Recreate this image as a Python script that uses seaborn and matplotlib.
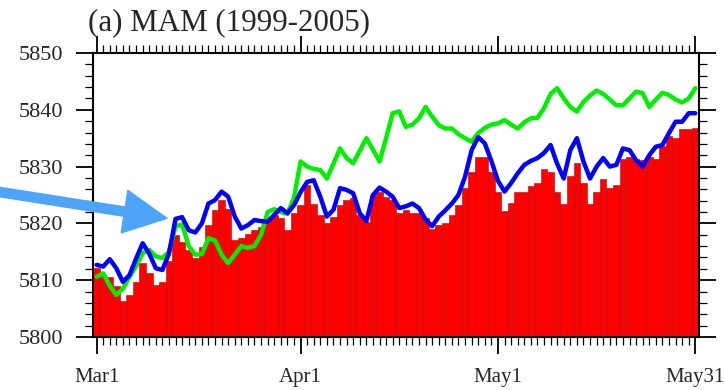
import numpy as np
import pandas as pd
import matplotlib
matplotlib.use("Agg")
import matplotlib.pyplot as plt
import matplotlib.patches as mpatches
from matplotlib.ticker import FixedLocator, MultipleLocator
import seaborn as sns

# Daily 500-hPa height, 1 Mar - 31 May (gpm)
bar_vals = [5812.2, 5810.9, 5810.5, 5808.9, 5806.3, 5807.4, 5809.7, 5813.0, 5811.3, 5809.2,
            5809.7, 5813.3, 5818.0, 5816.8, 5815.3, 5813.9, 5815.9, 5819.7, 5822.4, 5824.1,
            5822.6, 5817.1, 5817.5, 5818.2, 5818.8, 5819.4, 5820.6, 5821.5, 5820.9, 5818.8,
            5821.8, 5823.2, 5826.8, 5823.5, 5821.5, 5820.0, 5821.2, 5823.2, 5824.1, 5824.4,
            5821.5, 5820.3, 5825.0, 5825.6, 5824.7, 5824.1, 5821.8, 5822.4, 5821.8, 5821.8,
            5820.9, 5819.1, 5819.7, 5820.0, 5821.5, 5823.2, 5826.2, 5829.1, 5831.7, 5831.7,
            5829.1, 5825.6, 5822.2, 5823.6, 5825.6, 5825.6, 5826.5, 5827.2, 5829.5, 5829.1,
            5825.6, 5823.4, 5828.3, 5830.6, 5827.2, 5823.4, 5825.6, 5827.9, 5826.3, 5826.8,
            5831.4, 5831.7, 5831.4, 5831.2, 5831.7, 5831.4, 5833.6, 5835.3, 5835.0, 5836.7,
            5836.7, 5836.8]

blue_vals = [5812.7, 5812.4, 5813.7, 5812.1, 5809.7, 5810.9, 5813.8, 5816.5, 5814.7, 5812.1,
             5811.8, 5814.7, 5820.8, 5821.1, 5818.8, 5818.4, 5820.0, 5823.5, 5824.1, 5825.6,
             5824.7, 5821.2, 5819.1, 5819.7, 5820.6, 5820.4, 5820.3, 5821.5, 5822.7, 5821.8,
             5823.2, 5825.5, 5827.3, 5827.6, 5824.7, 5821.2, 5822.4, 5826.2, 5825.9, 5825.3,
             5821.8, 5820.4, 5825.0, 5826.3, 5825.6, 5824.7, 5822.7, 5823.0, 5823.5, 5822.7,
             5820.7, 5819.5, 5821.2, 5822.3, 5823.5, 5825.0, 5828.2, 5832.9, 5835.2, 5834.1,
             5831.0, 5827.5, 5825.6, 5827.1, 5828.8, 5830.3, 5831.0, 5831.5, 5832.4, 5833.8,
             5830.5, 5827.9, 5832.9, 5835.0, 5830.9, 5827.9, 5830.0, 5831.5, 5830.0, 5830.3,
             5833.2, 5832.9, 5831.1, 5830.0, 5832.0, 5833.5, 5833.8, 5835.9, 5837.9, 5837.9,
             5839.4, 5839.4]

green_vals = [5810.6, 5811.2, 5809.0, 5807.4, 5808.5, 5810.6, 5812.5, 5814.8, 5815.3, 5814.2,
              5813.9, 5815.0, 5819.5, 5819.8, 5816.0, 5814.5, 5814.6, 5817.4, 5817.0, 5814.5,
              5813.0, 5814.5, 5816.0, 5815.7, 5816.0, 5818.0, 5822.0, 5822.5, 5822.0, 5821.7,
              5824.5, 5830.9, 5830.0, 5829.6, 5829.4, 5827.9, 5830.5, 5833.2, 5831.5, 5830.6,
              5832.8, 5835.0, 5833.0, 5830.9, 5835.0, 5839.4, 5839.7, 5837.0, 5837.4, 5838.5,
              5840.5, 5838.8, 5837.3, 5836.7, 5836.7, 5835.7, 5835.0, 5834.4, 5835.9, 5836.8,
              5837.4, 5837.6, 5838.2, 5837.4, 5836.7, 5837.8, 5838.5, 5838.6, 5840.3, 5842.8,
              5843.8, 5842.0, 5840.5, 5839.7, 5841.4, 5842.5, 5843.4, 5842.8, 5841.8, 5840.8,
              5840.8, 5842.0, 5843.2, 5842.9, 5840.5, 5841.8, 5843.0, 5842.6, 5841.8, 5841.3,
              5842.0, 5843.8]

tick_days = [0, 31, 61, 91]
tick_labels = ["Mar1", "Apr1", "May1", "May31"]
title_text = "(a) MAM (1999-2005)"

days = np.arange(len(bar_vals))
df = pd.DataFrame({"day": days, "bar": bar_vals, "blue": blue_vals, "green": green_vals})

sns.set_style("ticks")
plt.rcParams["font.family"] = ["Liberation Serif", "DejaVu Serif"]

W, H = 725, 390
fig = plt.figure(figsize=(W / 100, H / 100), dpi=100)
ax = fig.add_axes([93.3 / W, 1 - 337 / H, (698.6 - 93.3) / W, (337 - 53) / H])

sns.barplot(data=df, x="day", y="bar", native_scale=True, width=1.0,
            color="#ff0000", saturation=1, edgecolor="#c20000", linewidth=0.4,
            ax=ax, zorder=1)
sns.lineplot(data=df, x="day", y="blue", color="#0000ff", linewidth=3.2, ax=ax, zorder=3)
sns.lineplot(data=df, x="day", y="green", color="#00ee00", linewidth=3.2, ax=ax, zorder=2)

ax.set_xlim(-0.5, 91.5)
ax.set_ylim(5800, 5850)
ax.set_xlabel("")
ax.set_ylabel("")

ax.xaxis.set_major_locator(FixedLocator(tick_days))
ax.set_xticklabels(tick_labels)
ax.xaxis.set_minor_locator(MultipleLocator(1))
ax.yaxis.set_major_locator(MultipleLocator(10))
ax.yaxis.set_minor_locator(MultipleLocator(2))

for s in ax.spines.values():
    s.set_visible(True)
    s.set_linewidth(1.5)
    s.set_color("black")

ax.tick_params(which="both", direction="out", top=True, right=True,
               labeltop=False, labelright=False, color="black")
ax.tick_params(which="major", length=12, width=1.3)
ax.tick_params(which="minor", length=5.5, width=0.9)
ax.tick_params(axis="x", which="major", labelsize=15, pad=10)
ax.tick_params(axis="y", which="major", labelsize=16, pad=10)

fig.text(88 / W, 1 - 30 / H, title_text, fontsize=22.3, ha="left", va="baseline")

# pointer arrow on the left
tail = (-10 / 100, (H - 190.5) / 100)
tip = (167 / 100, (H - 218.3) / 100)
arrow = mpatches.FancyArrow(tail[0], tail[1], tip[0] - tail[0], tip[1] - tail[1],
                            width=0.093, head_width=0.43, head_length=0.43,
                            length_includes_head=True, color="#4ea4f6",
                            transform=fig.dpi_scale_trans, zorder=5)
fig.add_artist(arrow)

fig.savefig("out.png", dpi=100)
